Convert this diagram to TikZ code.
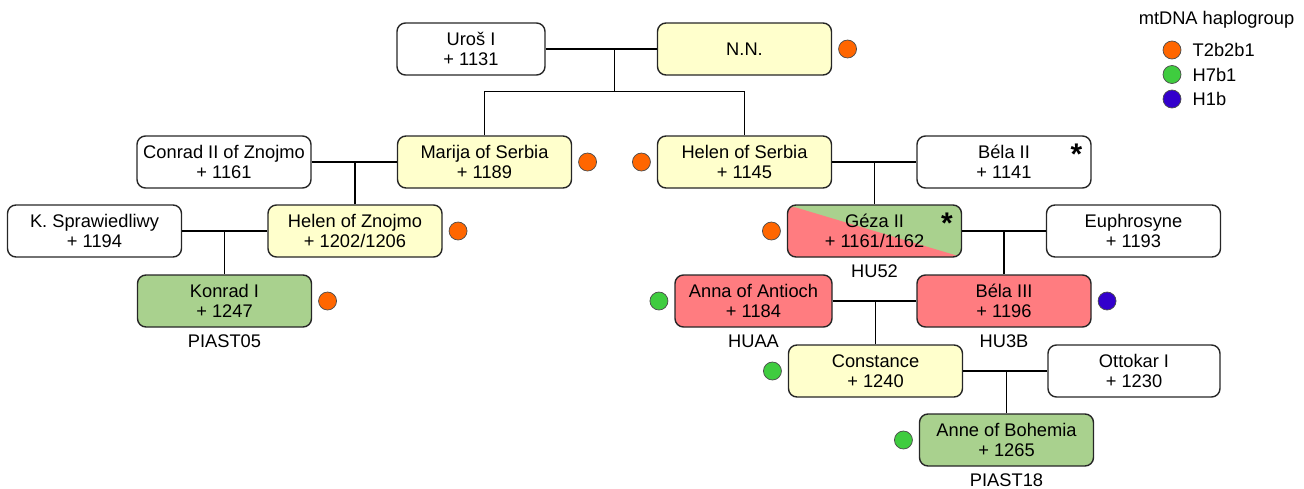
\documentclass[tikz,border=0pt]{standalone}
\usepackage{fontspec}
\setmainfont{Liberation Sans}
\usepackage{tikz}
\usetikzlibrary{positioning,calc}
\definecolor{jaune}{HTML}{FFFFCC}
\definecolor{vert}{HTML}{A9D18E}
\definecolor{rouge}{HTML}{FF7C80}
\definecolor{orangeh}{HTML}{FF6600}
\definecolor{verth}{HTML}{3FCC3F}
\definecolor{bleuh}{HTML}{3300CC}
\tikzset{pers/.style={
    thick,
    draw=black!85,
    rounded corners=0.17cm,
    align=center,
    minimum width=3.48cm,
    minimum height=1.04cm,
    inner sep=0}}
\tikzset{hap/.style={
    circle,
    draw=black!70,
    fill=#1,
    minimum size=0.36cm,
    inner sep=0}}
\tikzset{code/.style={
    inner sep=0}}
\tikzset{etoile/.style={
    inner sep=0,
    anchor=north east,
    font=\fontsize{17}{17}\selectfont\bfseries}}

\begin{document}
\begin{tikzpicture}[font=\fontsize{10.4}{11.6}\selectfont]

\useasboundingbox (0,0) rectangle (26.08,-9.78);

\node[pers, minimum width=2.96cm] (uros) at (9.42,-0.98) {Uroš I\\+ 1131};
\node[pers, fill=jaune] (nn) at (14.89,-0.98) {N.N.};

\node[pers, fill=jaune] (marija) at (9.69,-3.24) {Marija of Serbia\\+ 1189};
\node[pers, fill=jaune] (helenS) at (14.89,-3.24) {Helen of Serbia\\+ 1145};
\node[pers] (conrad) at (4.48,-3.24) {Conrad II of Znojmo\\+ 1161};
\node[pers] (belaII) at (20.08,-3.24) {Béla II\\+ 1141};

\node[pers] (kspr) at (1.89,-4.62) {K. Sprawiedliwy\\+ 1194};
\node[pers, fill=jaune] (helenZ) at (7.10,-4.62) {Helen of Znojmo\\+ 1202/1206};
\node[pers,
  fill=vert,
  path picture={
    \fill[rouge] (path picture bounding box.north west)
      -- (path picture bounding box.south east)
      -- (path picture bounding box.south west) -- cycle;}] (geza) at (17.49,-4.62) {Géza II\\+ 1161/1162};
\node[pers] (euphr) at (22.67,-4.62) {Euphrosyne\\+ 1193};

\node[pers, fill=vert] (konrad) at (4.49,-6.02) {Konrad I\\+ 1247};
\node[pers, fill=rouge, minimum width=3.14cm] (anna) at (15.07,-6.02) {Anna of Antioch\\+ 1184};
\node[pers, fill=rouge] (belaIII) at (20.08,-6.02) {Béla III\\+ 1196};

\node[pers, fill=jaune] (constance) at (17.51,-7.42) {Constance\\+ 1240};
\node[pers, minimum width=3.44cm] (ottokar) at (22.68,-7.42) {Ottokar I\\+ 1230};

\node[pers, fill=vert] (anne) at (20.13,-8.80) {Anne of Bohemia\\+ 1265};

\node[etoile] (belaIIe) at ([xshift=-0.18cm,yshift=-0.16cm]belaII.north east) {*};
\node[etoile] (gezae) at ([xshift=-0.18cm,yshift=-0.16cm]geza.north east) {*};

\node[code, below=0.14cm of konrad] (konradc) {PIAST05};
\node[code, below=0.14cm of geza] (gezac) {HU52};
\node[code, below=0.14cm of anna] (annac) {HUAA};
\node[code, below=0.14cm of belaIII] (belaIIIc) {HU3B};
\node[code, below=0.14cm of anne] (annec) {PIAST18};

\node[hap=orangeh, right=0.12cm of nn] (nnh) {};
\node[hap=orangeh, right=0.12cm of marija] (marijah) {};
\node[hap=orangeh, left=0.12cm of helenS] (helenSh) {};
\node[hap=orangeh, right=0.12cm of helenZ] (helenZh) {};
\node[hap=orangeh, right=0.12cm of konrad] (konradh) {};
\node[hap=orangeh, left=0.12cm of geza] (gezah) {};
\node[hap=verth, left=0.12cm of anna] (annah) {};
\node[hap=bleuh, right=0.12cm of belaIII] (belaIIIh) {};
\node[hap=verth, left=0.12cm of constance] (constanceh) {};
\node[hap=verth, left=0.12cm of anne] (anneh) {};

\coordinate (bar) at ($(marija.north)!0.5!(helenS.north)+(0,0.88)$);

\draw[thick] (uros.east) -- (nn.west);
\draw[thick] (bar |- uros.east) -- (bar);
\draw[thick] (marija.north) |- (bar) -| (helenS.north);

\draw[thick] (conrad.east) -- (marija.west);
\draw[thick] (helenZ.north) -- (helenZ.north |- conrad.east);
\draw[thick] (helenS.east) -- (belaII.west);
\draw[thick] (geza.north) -- (geza.north |- helenS.east);

\draw[thick] (kspr.east) -- (helenZ.west);
\draw[thick] (konrad.north) -- (konrad.north |- kspr.east);
\draw[thick] (geza.east) -- (euphr.west);
\draw[thick] (belaIII.north) -- (belaIII.north |- geza.east);

\draw[thick] (anna.east) -- (belaIII.west);
\draw[thick] (constance.north) -- (constance.north |- anna.east);
\draw[thick] (constance.east) -- (ottokar.west);
\draw[thick] (anne.north) -- (anne.north |- constance.east);

\node (legende) at (24.33,-0.40) {mtDNA haplogroup};
\node[hap=orangeh] (leg1) at (23.44,-1.00) {};
\node[hap=verth] (leg2) at (23.44,-1.49) {};
\node[hap=bleuh] (leg3) at (23.44,-1.98) {};
\node[code, right=0.22cm of leg1] (leg1t) {T2b2b1};
\node[code, right=0.22cm of leg2] (leg2t) {H7b1};
\node[code, right=0.22cm of leg3] (leg3t) {H1b};

\end{tikzpicture}
\end{document}
